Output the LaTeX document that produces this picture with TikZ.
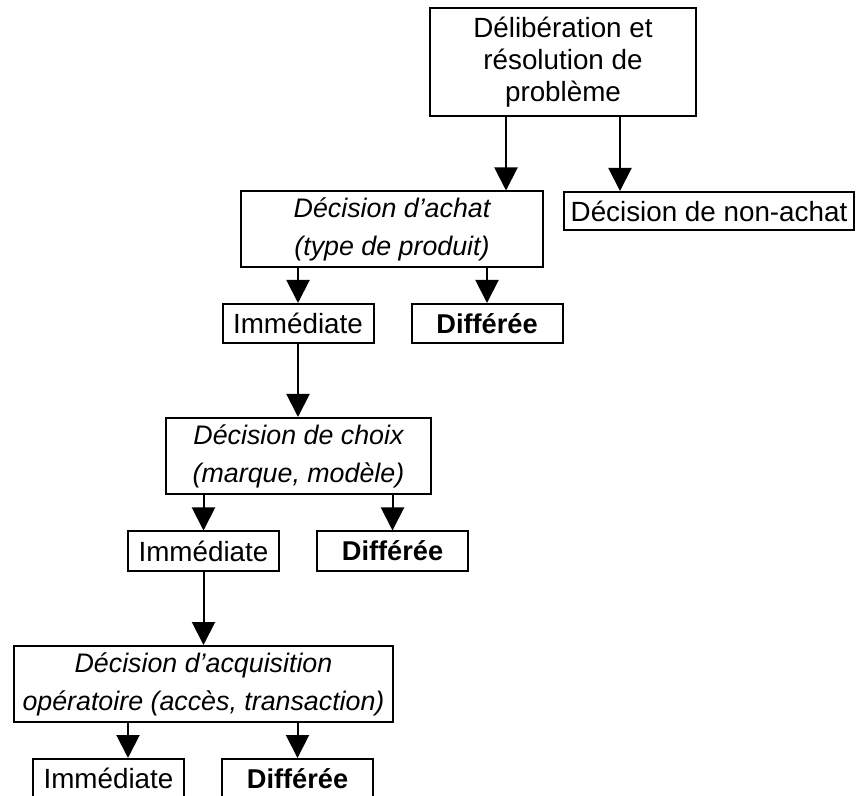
\documentclass[tikz,border=0pt]{standalone}
\usepackage{fontspec}
\setmainfont{Liberation Sans}
\usetikzlibrary{arrows.meta,positioning}

\begin{document}
\begin{tikzpicture}[
  x=0.5pt, y=-0.5pt,
  node distance=18pt,
  every node/.style={font=\fontsize{13.9}{16}\selectfont},
  box/.style={draw, line width=1pt, align=center, inner sep=2pt, minimum height=19.5pt},
  decbox/.style={box, font=\fontsize{13.4}{19}\selectfont\itshape, inner sep=1pt, minimum height=38pt},
  choicebox/.style={box, minimum width=75.5pt},
  laterbox/.style={choicebox, font=\fontsize{13.6}{16}\selectfont\bfseries},
  arr/.style={-{Triangle[length=11.5pt,width=11.5pt]}, line width=1pt}
]
\useasboundingbox (0,0) rectangle (857,796);
\node[box, minimum width=133pt, minimum height=54pt] (delib) at (563,62) {Délibération et\\ résolution de\\ problème};
\node[decbox, minimum width=151pt] (achat) at (392,229.5) {Décision d’achat\\ (type de produit)};
\node[box, minimum width=145pt, minimum height=19pt] (nonachat) at (709,211) {Décision de non-achat};
\node[choicebox] (imm1) at (298,323.5) {Immédiate};
\node[laterbox, right=of imm1] (dif1) {Différée};
\node[decbox, minimum width=132.5pt] (choix) at (298.5,456) {Décision de choix\\ (marque, modèle)};
\node[choicebox] (imm2) at (203.5,551) {Immédiate};
\node[laterbox, right=of imm2] (dif2) {Différée};
\node[decbox, minimum width=189.5pt] (acq) at (203.5,684) {Décision d’acquisition\\ opératoire (accès, transaction)};
\node[choicebox] (imm3) at (108.5,778.5) {Immédiate};
\node[laterbox, right=of imm3] (dif3) {Différée};

\coordinate (d1) at ([xshift=-28.5pt]delib.south);
\coordinate (d2) at ([xshift=28.5pt]delib.south);
\coordinate (a1) at ([xshift=9.75pt]imm3.north);

\draw[arr] (d1) -- (d1 |- achat.north);
\draw[arr] (d2) -- (d2 |- nonachat.north);
\draw[arr] (imm1.north |- achat.south) -- (imm1.north);
\draw[arr] (dif1.north |- achat.south) -- (dif1.north);
\draw[arr] (imm1.south) -- (imm1.south |- choix.north);
\draw[arr] (imm2.north |- choix.south) -- (imm2.north);
\draw[arr] (dif2.north |- choix.south) -- (dif2.north);
\draw[arr] (imm2.south) -- (imm2.south |- acq.north);
\draw[arr] (a1 |- acq.south) -- (a1);
\draw[arr] (dif3.north |- acq.south) -- (dif3.north);
\end{tikzpicture}
\end{document}
